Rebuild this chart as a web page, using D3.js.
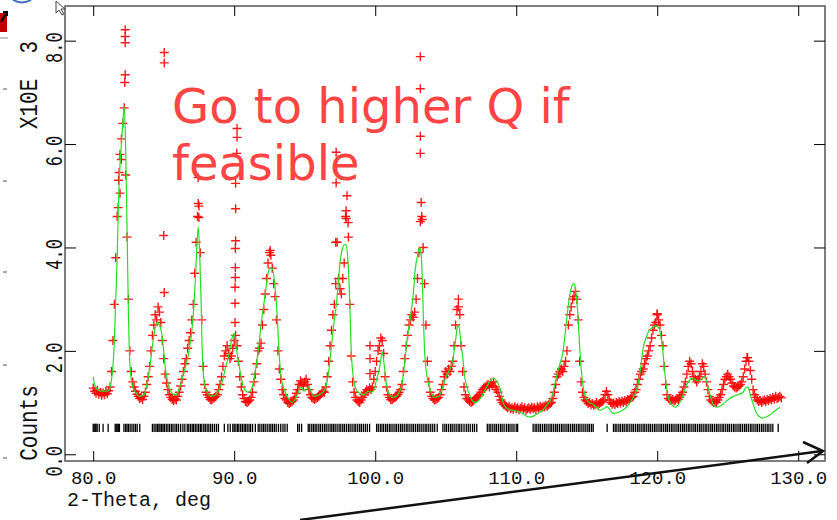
<!DOCTYPE html>
<html>
<head>
<meta charset="utf-8">
<script src="https://cdn.jsdelivr.net/npm/d3@7"></script>
<style>
  html, body { margin: 0; padding: 0; background: #fff; }
  svg { display: block; }
</style>
</head>
<body>
<div id="chart"></div>
<script>
'use strict';

// observed counts (x10^3), constant 2-theta step
var obsStart = 80.0;
var obsStep = 0.1;
var obsCounts = [
  1.28, 1.22, 1.18, 1.24, 1.16, 1.2, 1.14, 1.19, 1.15, 1.21,
  1.17, 1.23, 1.3, 1.6, 2.2, 2.9, 3.8, 4.6, 5.3, 5.8,
  6.1, 6.4, 6.7, 5.4, 4.2, 3.0, 2.0, 1.6, 1.4, 1.3,
  1.22, 1.16, 1.12, 1.08, 1.1, 1.06, 1.12, 1.2, 1.35, 1.5,
  1.7, 2.0, 2.3, 2.5, 2.7, 2.6, 2.85, 2.75, 2.55, 2.2,
  1.85, 1.55, 1.38, 1.25, 1.15, 1.1, 1.06, 1.04, 1.07, 1.05,
  1.12, 1.2, 1.32, 1.45, 1.6, 1.75, 1.85, 2.05, 2.2, 2.35,
  2.6, 2.9, 3.5, 4.1, 4.6, 4.8, 3.9, 2.6, 1.7, 1.35,
  1.2, 1.15, 1.1, 1.06, 1.05, 1.08, 1.1, 1.12, 1.15, 1.25,
  1.35, 1.5, 1.7, 1.9, 2.0, 2.1, 1.95, 1.85, 1.9, 2.05,
  2.2, 2.3, 2.1, 1.8, 1.5, 1.3, 1.15, 1.08, 1.02, 1.0,
  1.02, 1.05, 1.1, 1.2, 1.4, 1.55, 1.75, 2.0, 2.05, 2.15,
  2.5, 2.8, 3.1, 3.4, 3.7, 3.9, 3.85, 3.6, 3.3, 3.05,
  2.6, 2.0, 1.65, 1.45, 1.25, 1.15, 1.08, 1.05, 1.0, 0.98,
  1.0, 1.02, 1.05, 1.1, 1.18, 1.25, 1.35, 1.42, 1.38, 1.32,
  1.4, 1.45, 1.35, 1.25, 1.15, 1.1, 1.08, 1.06, 1.08, 1.1,
  1.12, 1.15, 1.18, 1.22, 1.2, 1.3, 1.5, 1.8, 2.1, 2.4,
  2.7, 2.9, 3.3, 4.1, 3.4, 3.2, 3.1, 3.4, 3.7, 4.6,
  5.0, 4.2, 2.9, 1.9, 1.4, 1.2, 1.1, 1.05, 1.02, 1.0,
  1.05, 1.1, 1.15, 1.2, 1.25, 1.22, 1.28, 1.25, 1.3, 1.45,
  1.6, 1.8, 2.0, 2.1, 2.25, 2.2, 1.95, 1.5, 1.3, 1.15,
  1.1, 1.06, 1.05, 1.08, 1.1, 1.12, 1.15, 1.2, 1.25, 1.35,
  1.6, 1.85, 2.1, 2.3, 2.5, 2.6, 2.7, 2.65, 2.75, 3.0,
  3.4, 3.9, 4.5, 4.6, 4.0, 3.3, 2.5, 1.8, 1.4, 1.2,
  1.12, 1.08, 1.05, 1.06, 1.08, 1.1, 1.15, 1.25, 1.35, 1.5,
  1.6, 1.55, 1.65, 1.6, 1.7, 1.8, 2.1, 2.5, 2.8, 3.0,
  2.7, 2.1, 1.6, 1.3, 1.15, 1.08, 1.05, 1.02, 1.0, 1.02,
  1.05, 1.08, 1.1, 1.12, 1.15, 1.2, 1.25, 1.28, 1.3, 1.32,
  1.35, 1.3, 1.38, 1.33, 1.4, 1.3, 1.25, 1.2, 1.12, 1.05,
  1.0, 0.97, 0.95, 0.92, 0.9, 0.93, 0.88, 0.9, 0.87, 0.92,
  0.88, 0.9, 0.86, 0.89, 0.92, 0.87, 0.9, 0.85, 0.88, 0.9,
  0.87, 0.91, 0.88, 0.9, 0.86, 0.92, 0.89, 0.93, 0.9, 0.92,
  0.92, 0.95, 0.93, 0.96, 0.98, 1.0, 1.08, 1.2, 1.35, 1.5,
  1.55, 1.6, 1.65, 1.6, 1.7, 1.8, 2.0, 2.5, 2.7, 2.85,
  3.0, 3.05, 3.15, 3.0, 2.6, 1.8, 1.4, 1.2, 1.1, 1.05,
  1.02, 0.98, 1.0, 0.96, 0.98, 0.95, 0.97, 1.0, 0.96, 0.98,
  1.0, 1.02, 1.05, 1.15, 1.22, 1.15, 1.05, 1.0, 0.97, 0.99,
  0.96, 1.0, 0.98, 1.02, 0.99, 1.03, 1.0, 1.04, 1.02, 1.06,
  1.05, 1.08, 1.1, 1.12, 1.2, 1.25, 1.35, 1.45, 1.55, 1.6,
  1.65, 1.75, 1.85, 1.9, 2.0, 2.1, 2.25, 2.4, 2.5, 2.55,
  2.7, 2.6, 2.5, 2.3, 2.1, 1.7, 1.35, 1.15, 1.08, 1.05,
  1.04, 1.06, 1.03, 1.05, 1.08, 1.06, 1.1, 1.15, 1.2, 1.3,
  1.4, 1.55, 1.7, 1.8, 1.75, 1.6, 1.5, 1.45, 1.4, 1.45,
  1.5, 1.6, 1.75, 1.7, 1.55, 1.4, 1.25, 1.12, 1.05, 1.02,
  1.0, 1.02, 1.0, 1.05, 1.1, 1.15, 1.25, 1.35, 1.45, 1.5,
  1.55, 1.5, 1.45, 1.38, 1.32, 1.3, 1.28, 1.3, 1.32, 1.35,
  1.4, 1.5, 1.65, 1.8, 1.87, 1.8, 1.62, 1.45, 1.25, 1.15,
  1.1, 1.05, 1.02, 1.04, 1.0, 1.03, 1.05, 1.02, 1.06, 1.04,
  1.08, 1.05, 1.1, 1.07, 1.12, 1.08, 1.1, 1.12, 1.09
];

// stray observed points (spikes and stacked crosses)
var extraTheta = [
  82.27, 82.27, 82.27, 82.27, 82.24, 81.84, 81.9, 81.77, 82.0,
  85.04, 85.04, 85.0, 85.04, 87.45, 87.45, 87.5,
  90.2, 90.2, 90.18, 90.1, 90.1, 90.1, 90.08, 90.08, 90.08, 90.06, 90.06, 90.06,
  92.55, 97.23, 97.23, 97.2, 97.94, 97.94, 98.08, 99.63, 99.63, 99.63,
  103.2, 103.2, 103.2, 103.2, 103.26, 103.33, 105.9, 120.0, 126.38
];
var extraCounts = [
  8.21, 8.08, 7.96, 7.34, 7.19, 5.45, 5.05, 4.77, 5.7,
  7.77, 7.57, 4.23, 3.13, 5.35, 4.85, 4.58,
  6.3, 6.13, 5.82, 5.24, 4.75, 4.13, 3.98, 3.61, 3.42, 3.23, 2.92, 2.55,
  3.94, 5.84, 5.25, 4.1, 4.71, 4.56, 4.48, 2.1, 1.85, 1.56,
  7.69, 7.07, 6.15, 5.82, 4.87, 4.54, 2.85, 2.72, 1.87
];

// calculated profile
var calcTheta = [
  80.0, 80.1, 80.3, 80.6, 81.0, 81.2, 81.3, 81.4, 81.5, 81.6,
  81.7, 81.8, 81.9, 82.0, 82.1, 82.2, 82.28, 82.35, 82.4, 82.45,
  82.5, 82.55, 82.6, 82.7, 82.8, 83.0, 83.3, 83.6, 83.8, 84.0,
  84.25, 84.4, 84.55, 84.7, 84.85, 85.0, 85.1, 85.25, 85.4, 85.6,
  85.8, 86.0, 86.2, 86.4, 86.6, 86.8, 87.0, 87.15, 87.25, 87.35,
  87.45, 87.55, 87.65, 87.72, 87.8, 87.9, 88.1, 88.4, 88.7, 89.0,
  89.2, 89.4, 89.6, 89.85, 90.0, 90.15, 90.3, 90.45, 90.65, 90.85,
  91.0, 91.2, 91.4, 91.6, 91.75, 91.9, 92.1, 92.25, 92.4, 92.55,
  92.7, 92.85, 93.0, 93.1, 93.25, 93.35, 93.5, 93.7, 93.9, 94.1,
  94.3, 94.55, 94.75, 94.95, 95.1, 95.3, 95.5, 95.7, 96.0, 96.3,
  96.5, 96.7, 96.9, 97.1, 97.2, 97.35, 97.5, 97.65, 97.8, 97.95,
  98.05, 98.15, 98.22, 98.3, 98.4, 98.5, 98.65, 98.9, 99.2, 99.5,
  99.75, 99.95, 100.1, 100.3, 100.5, 100.65, 100.8, 100.95, 101.2, 101.5,
  101.7, 101.9, 102.1, 102.3, 102.5, 102.7, 102.85, 103.0, 103.15, 103.25,
  103.35, 103.42, 103.5, 103.6, 103.75, 103.9, 104.2, 104.5, 104.8, 105.0,
  105.3, 105.5, 105.7, 105.85, 105.95, 106.1, 106.2, 106.35, 106.5, 106.7,
  106.9, 107.1, 107.3, 107.5, 107.7, 107.9, 108.15, 108.4, 108.6, 108.85,
  109.0, 109.1, 109.3, 109.6, 110.0, 110.4, 110.7, 111.0, 111.3, 111.6,
  111.9, 112.2, 112.45, 112.7, 112.9, 113.1, 113.3, 113.5, 113.65, 113.85,
  114.05, 114.15, 114.3, 114.4, 114.5, 114.6, 114.75, 114.9, 115.1, 115.5,
  115.95, 116.2, 116.45, 116.7, 116.9, 117.3, 117.6, 118.0, 118.3, 118.6,
  118.8, 119.0, 119.2, 119.4, 119.6, 119.86, 120.1, 120.25, 120.4, 120.55,
  120.7, 120.85, 121.05, 121.3, 121.6, 121.8, 122.0, 122.2, 122.4, 122.6,
  122.85, 123.1, 123.35, 123.5, 123.65, 123.8, 124.0, 124.2, 124.45, 124.7,
  125.0, 125.4, 125.8, 126.1, 126.3, 126.45, 126.6, 126.8, 127.0, 127.2,
  127.45, 127.7, 128.0, 128.3, 128.7
];
var calcCounts = [
  1.5, 1.35, 1.25, 1.22, 1.22, 1.3, 1.45, 1.7, 2.2, 3.0,
  3.8, 4.9, 5.6, 6.0, 6.4, 6.72, 6.2, 5.2, 4.4, 3.5,
  2.7, 2.1, 1.75, 1.45, 1.3, 1.2, 1.12, 1.15, 1.35, 1.65,
  2.2, 2.45, 2.55, 2.5, 2.35, 2.0, 1.7, 1.45, 1.28, 1.18,
  1.15, 1.2, 1.35, 1.55, 1.75, 2.0, 2.4, 2.9, 3.4, 4.0,
  4.4, 3.9, 3.0, 2.1, 1.6, 1.35, 1.2, 1.12, 1.15, 1.3,
  1.45, 1.7, 1.9, 2.25, 2.34, 2.05, 1.8, 1.55, 1.3, 1.22,
  1.2, 1.25, 1.45, 1.8, 2.1, 2.5, 2.9, 3.2, 3.5, 3.6,
  3.6, 3.35, 2.9, 2.4, 1.7, 1.45, 1.3, 1.15, 1.05, 1.0,
  1.05, 1.2, 1.3, 1.22, 1.25, 1.3, 1.18, 1.12, 1.15, 1.2,
  1.3, 1.6, 2.1, 2.6, 2.8, 3.2, 3.7, 3.95, 4.05, 4.05,
  3.8, 3.3, 2.7, 2.0, 1.6, 1.4, 1.25, 1.18, 1.15, 1.22,
  1.2, 1.28, 1.45, 1.65, 1.97, 1.7, 1.35, 1.2, 1.1, 1.12,
  1.2, 1.35, 1.8, 2.3, 2.65, 3.1, 3.6, 3.85, 4.0, 3.9,
  3.3, 2.6, 2.0, 1.65, 1.4, 1.25, 1.1, 1.12, 1.3, 1.49,
  1.65, 1.82, 2.2, 2.49, 2.45, 2.1, 1.9, 1.5, 1.3, 1.15,
  1.03, 1.0, 1.03, 1.1, 1.2, 1.3, 1.42, 1.47, 1.42, 1.28,
  1.1, 0.98, 0.9, 0.86, 0.84, 0.8, 0.74, 0.72, 0.75, 0.8,
  0.86, 0.96, 1.06, 1.3, 1.56, 1.75, 1.95, 2.4, 2.78, 3.15,
  3.3, 3.28, 2.95, 2.6, 2.1, 1.68, 1.3, 1.12, 1.02, 0.96,
  0.85, 0.88, 0.92, 0.84, 0.79, 0.82, 0.86, 0.97, 1.1, 1.3,
  1.62, 2.05, 2.25, 2.38, 2.44, 2.49, 2.45, 2.3, 2.0, 1.55,
  1.22, 1.05, 0.95, 0.91, 1.0, 1.12, 1.28, 1.4, 1.46, 1.46,
  1.42, 1.44, 1.5, 1.42, 1.25, 1.1, 0.95, 0.91, 0.93, 0.98,
  1.05, 1.12, 1.16, 1.2, 1.3, 1.3, 1.15, 0.98, 0.82, 0.74,
  0.7, 0.72, 0.76, 0.83, 0.91
];

// reflection positions
var reflTheta = [
  80.0, 80.07, 80.14, 80.2, 80.28, 80.43, 80.7, 81.06,
  81.56, 81.63, 81.7, 81.78, 81.86, 82.18, 82.3, 82.4, 82.5, 82.62, 82.75, 82.88, 83.0, 83.12, 83.3,
  84.2, 84.32, 84.45, 84.55, 84.66, 84.74, 84.85, 84.95, 85.05, 85.18, 85.3, 85.42, 85.55, 85.66,
  85.8, 85.92, 86.05, 86.2, 86.36, 86.5,
  86.67, 86.78, 86.9, 87.02, 87.12, 87.24, 87.36, 87.48, 87.6, 87.7, 87.84, 87.95, 88.08, 88.2,
  88.33, 88.46, 88.6, 88.74, 88.88,
  89.3, 89.55, 89.72,
  89.9, 90.0, 90.12, 90.24, 90.33, 90.46, 90.58, 90.7, 90.8, 90.92, 91.05, 91.16, 91.3, 91.5,
  91.7, 91.82, 91.96, 92.08, 92.2, 92.34, 92.48, 92.6, 92.72, 92.85, 92.98, 93.14, 93.3, 93.46,
  93.6, 93.76,
  94.5, 94.62, 94.78,
  95.25, 95.36, 95.5, 95.62, 95.74, 95.86, 96.0, 96.12, 96.26, 96.4, 96.52, 96.66, 96.8, 96.92,
  97.04, 97.16, 97.3, 97.44, 97.56, 97.7, 97.82, 97.96, 98.1, 98.22, 98.36, 98.5, 98.62, 98.76,
  98.9, 99.02, 99.16, 99.3, 99.44, 99.6,
  100.1, 100.22, 100.36, 100.48, 100.6, 100.74, 100.86, 101.0, 101.12, 101.26, 101.4, 101.52,
  101.66, 101.8, 101.92, 102.06, 102.2, 102.32, 102.46, 102.6, 102.72, 102.86, 103.0, 103.12,
  103.26, 103.4, 103.54, 103.66, 103.8, 103.94, 104.08, 104.22, 104.4,
  104.8, 104.94, 105.06, 105.2, 105.34, 105.46, 105.6, 105.74, 105.88, 106.0, 106.14, 106.3,
  106.46, 106.6, 106.74, 106.9, 107.04, 107.2,
  107.95, 108.08, 108.2, 108.34, 108.48, 108.6, 108.74, 108.88, 109.0, 109.14, 109.3, 109.44,
  109.56, 109.7, 109.84, 110.0, 110.1,
  111.2, 111.34, 111.46, 111.6, 111.72, 111.86, 112.0, 112.12, 112.26, 112.4, 112.52, 112.66,
  112.8, 112.92, 113.06, 113.2, 113.32, 113.46, 113.6, 113.72, 113.86, 114.0, 114.12, 114.26,
  114.4, 114.52, 114.66, 114.8, 114.94, 115.08, 115.2, 115.34, 115.46,
  116.45,
  116.9, 117.02, 117.14, 117.28, 117.4, 117.54, 117.66, 117.8, 117.92, 118.06, 118.2, 118.32,
  118.46, 118.6, 118.72, 118.86, 119.0, 119.12, 119.26, 119.4, 119.52, 119.66, 119.8, 119.92,
  120.06, 120.2, 120.32, 120.46, 120.6, 120.72, 120.86, 121.0, 121.12, 121.26, 121.4, 121.52,
  121.66, 121.8, 121.92, 122.06, 122.2, 122.32, 122.46, 122.6, 122.72, 122.86, 123.0, 123.12,
  123.26, 123.4, 123.52, 123.66, 123.8, 123.92, 124.06, 124.2, 124.32, 124.46, 124.6, 124.72,
  124.86, 125.0, 125.12, 125.26, 125.4, 125.52, 125.66, 125.8, 125.92, 126.06, 126.2, 126.32,
  126.46, 126.6, 126.72, 126.86, 127.0, 127.12, 127.26, 127.4, 127.52, 127.66, 127.8, 127.92,
  128.06, 128.2, 128.58
];

var xTicks = [80, 90, 100, 110, 120, 130];
var yTicks = [0, 2, 4, 6, 8];
var noteLines = ['Go to higher Q if', 'feasible'];

var plot = {
  // vertical text, stretched across the glyph height like the plotter font
  upText: function(svg, px, py, size, stretch, str) {
    return svg.append('text')
      .attr('transform', 'translate(' + px + ',' + py + ') rotate(-90) scale(1,' + stretch + ')')
      .attr('text-anchor', 'middle')
      .attr('font-family', '"Liberation Mono", "DejaVu Sans Mono", monospace')
      .attr('font-size', size)
      .attr('fill', '#111')
      .style('white-space', 'pre')
      .text(str);
  },
  draw: function() {
    var w, h, left, right, top, bottom, svg, x, y, obs, extra, calc, line, cross, monoFont, g;

    w = 837;
    h = 520;
    left = 65;
    right = 825;
    top = 6;
    bottom = 461;
    monoFont = '"Liberation Mono", "DejaVu Sans Mono", monospace';
    cross = 'M-4.5,0H4.5M0,-4.5V4.5';

    svg = d3.select('#chart')
      .append('svg')
      .attr('width', w)
      .attr('height', h);

    x = d3.scaleLinear().domain([78.0, 131.9]).range([left, right]);
    y = d3.scaleLinear().domain([-0.13, 8.67]).range([bottom, top]);

    // frame
    svg.append('rect')
      .attr('x', left)
      .attr('y', top)
      .attr('width', right - left)
      .attr('height', bottom - top)
      .attr('fill', 'none')
      .attr('stroke', '#555')
      .attr('stroke-width', 1.5);

    // ticks on all four sides, labels only at the bottom
    g = svg.append('g')
      .attr('transform', 'translate(0,' + bottom + ')')
      .call(d3.axisBottom(x).tickValues(xTicks).tickSize(-10).tickPadding(10)
        .tickFormat(d3.format('.1f')));
    g.select('.domain').remove();
    g.attr('font-family', monoFont).attr('font-size', 19);
    g.selectAll('text').attr('fill', '#111');

    g = svg.append('g')
      .attr('transform', 'translate(0,' + top + ')')
      .call(d3.axisTop(x).tickValues(xTicks).tickSize(-10).tickFormat(''));
    g.select('.domain').remove();

    g = svg.append('g')
      .attr('transform', 'translate(' + left + ',0)')
      .call(d3.axisLeft(y).tickValues(yTicks).tickSize(-11).tickFormat(''));
    g.select('.domain').remove();

    g = svg.append('g')
      .attr('transform', 'translate(' + right + ',0)')
      .call(d3.axisRight(y).tickValues(yTicks).tickSize(-11).tickFormat(''));
    g.select('.domain').remove();

    // rotated y labels
    yTicks.forEach(function(d) {
      plot.upText(svg, 62, y(d) + 7, 17, 1.45, d3.format('.1f')(d));
    });
    plot.upText(svg, 37, 423, 21, 1.22, 'Counts');
    plot.upText(svg, 37, 85, 21, 1.22, 'X10E  3');

    svg.append('text')
      .attr('x', 67)
      .attr('y', 506)
      .attr('font-family', monoFont)
      .attr('font-size', 20)
      .attr('fill', '#111')
      .text('2-Theta, deg');

    // reflection markers
    svg.append('g')
      .selectAll('line')
      .data(reflTheta)
      .join('line')
      .attr('x1', function(d) { return x(d); })
      .attr('x2', function(d) { return x(d); })
      .attr('y1', y(0.59))
      .attr('y2', y(0.43))
      .attr('stroke', '#000')
      .attr('stroke-width', 1.3);

    // observed crosses
    obs = obsCounts.map(function(c, i) {
      return { t: obsStart + i * obsStep, c: c };
    });
    extra = extraTheta.map(function(t, i) {
      return { t: t, c: extraCounts[i] };
    });

    svg.append('g')
      .attr('stroke', '#ff0000')
      .attr('stroke-width', 1.4)
      .attr('stroke-opacity', 0.9)
      .selectAll('path')
      .data(obs.concat(extra))
      .join('path')
      .attr('d', cross)
      .attr('transform', function(d) { return 'translate(' + x(d.t) + ',' + y(d.c) + ')'; });

    // calculated line
    calc = calcTheta.map(function(t, i) {
      return { t: t, c: calcCounts[i] };
    });
    line = d3.line()
      .x(function(d) { return x(d.t); })
      .y(function(d) { return y(d.c); })
      .curve(d3.curveMonotoneX);

    svg.append('path')
      .datum(calc)
      .attr('d', line)
      .attr('fill', 'none')
      .attr('stroke', '#22e022')
      .attr('stroke-width', 1.2);

    // note on the slide
    svg.append('text')
      .attr('font-family', '"DejaVu Sans", sans-serif')
      .attr('font-size', 48)
      .attr('fill', '#ff4444')
      .selectAll('tspan')
      .data(noteLines)
      .join('tspan')
      .attr('x', 172)
      .attr('y', function(d, i) { return 123 + i * 57; })
      .text(function(d) { return d; });

    // slide arrow
    svg.append('line')
      .attr('x1', 300).attr('y1', 520)
      .attr('x2', 822).attr('y2', 451)
      .attr('stroke', '#111')
      .attr('stroke-width', 2.5);
    svg.append('path')
      .attr('d', 'M803,442L823,451L807,463')
      .attr('fill', 'none')
      .attr('stroke', '#111')
      .attr('stroke-width', 2.5);

    // slide leftovers at the top-left corner
    svg.append('rect').attr('x', 0).attr('y', 13).attr('width', 7).attr('height', 19).attr('fill', '#c00000');
    svg.append('path').attr('d', 'M1,22L7,12M3,12H7V16').attr('fill', 'none').attr('stroke', '#000').attr('stroke-width', 2);
    svg.append('path').attr('d', 'M13,0Q22,5 31,0').attr('fill', 'none').attr('stroke', '#3d6fc0').attr('stroke-width', 2);
    svg.append('line').attr('x1', 0).attr('y1', 38).attr('x2', 8).attr('y2', 38).attr('stroke', '#888');
    svg.append('path').attr('d', 'M56,1L56,13L59,10L62,15L64,14L61,9L65,9Z').attr('fill', '#fff').attr('stroke', '#444');
    svg.append('g')
      .selectAll('line')
      .data([89, 181, 272, 365, 458])
      .join('line')
      .attr('x1', 3).attr('x2', 7)
      .attr('y1', function(d) { return d; })
      .attr('y2', function(d) { return d; })
      .attr('stroke', '#555');
  }
};

plot.draw();
</script>
</body>
</html>
